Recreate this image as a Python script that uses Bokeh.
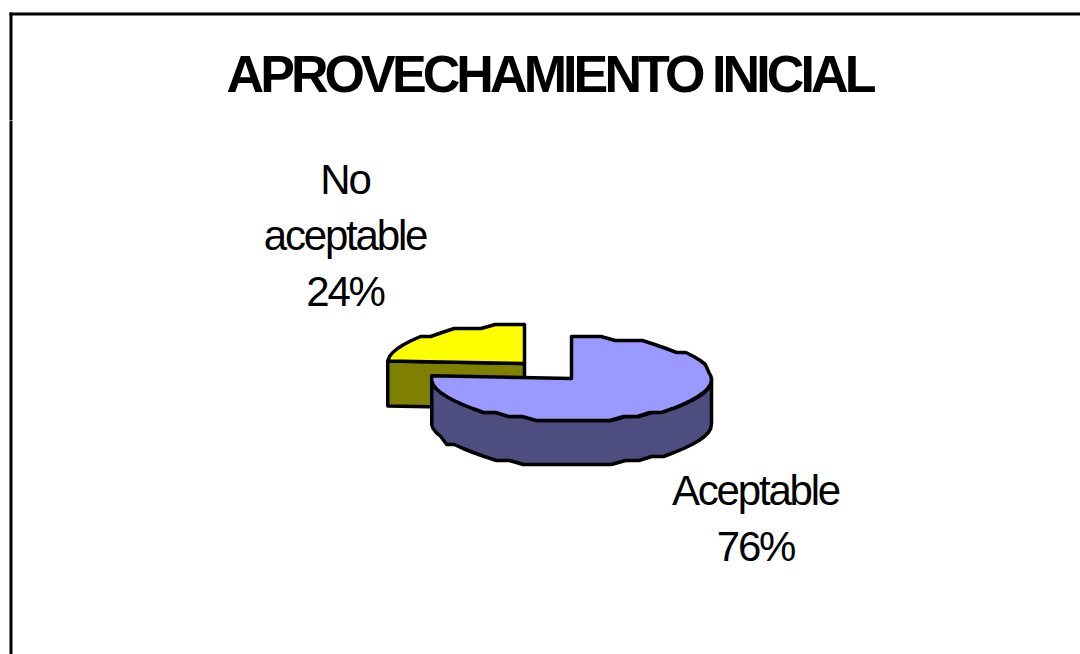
import numpy as np
from bokeh.plotting import figure
from bokeh.layouts import column
from bokeh.models import Range1d
from bokeh.embed import file_html
from bokeh.resources import INLINE
from bokeh.core.properties import value

TITLE = "APROVECHAMIENTO INICIAL"
categories = ["Aceptable", "No\naceptable"]
percents = [76, 24]
top_colors = ["#9999FF", "#FFFF00"]
side_colors = ["#4D4D80", "#808000"]

W, H, SPLIT = 1080, 654, 120
FONT = "Liberation Sans"
DEPTH = 45
JAG = 4
STEP = 6
TITLE_SP = 3.9
LABEL_SP = 2.2
LW = 3.5


def base(h, y0, y1, spacing):
    f = figure(width=W, height=h, output_backend="svg", toolbar_location=None,
               x_axis_type=None, y_axis_type=None,
               x_range=Range1d(0, W), y_range=Range1d(y1, y0),
               min_border=0, outline_line_color=None, background_fill_color="white",
               border_fill_color="white")
    f.grid.visible = False
    f.styles = {"letter-spacing": f"-{spacing}px"}
    f.line([10.5, 10.5], [max(y0 - 3, 12), y1 + 3], line_color="black", line_width=3)
    return f


def arc(cx, cy, rx, ry, a0, a1):
    n = max(2, int(abs(a1 - a0) / STEP) + 1)
    t = np.radians(np.linspace(a0, a1, n))
    x = cx + rx * np.cos(t)
    y = cy - ry * np.sin(t)
    y[1:-1] = np.round(y[1:-1] / JAG) * JAG
    return x, y


top = base(SPLIT, 0, SPLIT, TITLE_SP)
top.line([9, W], [13.5, 13.5], line_color="black", line_width=3)
top.text([549 + len(TITLE) * TITLE_SP / 2], [73], text=[TITLE], text_font=value(FONT),
         text_font_style="bold", text_font_size="52px", text_align="center",
         text_baseline="middle", text_color="black")

p = base(H - SPLIT, SPLIT, H, LABEL_SP)
b0, b1 = 90, 90 - 3.6 * percents[0]
y0, y1 = 90 + 3.6 * percents[1], 90

# yellow slice
cx, cy, rx, ry = 524, 363, 137, 39
ax, ay = arc(cx, cy, rx, ry, y1, y0)
p.patch([cx, ax[-1], ax[-1], cx], [cy, ay[-1], ay[-1] + DEPTH, cy + DEPTH],
        fill_color=side_colors[1], line_color="black", line_width=LW, line_join="round")
p.patch(np.r_[cx, ax], np.r_[cy, ay], fill_color=top_colors[1], line_color="black",
        line_width=LW, line_join="round")

# blue slice
cx, cy, rx, ry = 571, 378, 140, 42
fx, fy = arc(cx, cy, rx, ry, 0, b1)
fbx, fby = arc(cx, cy + DEPTH, rx, ry, 0, b1)
p.patch(np.r_[fx, fbx[::-1]], np.r_[fy, fby[::-1]], fill_color=side_colors[0],
        line_color="black", line_width=LW, line_join="round")
tx, ty = arc(cx, cy, rx, ry, b0, b1)
p.patch(np.r_[cx, tx], np.r_[cy, ty], fill_color=top_colors[0], line_color="black",
        line_width=LW, line_join="round")

anchors = [(755, 490), (344.5, 179)]
LINE = 56
xs, ys, rows = [], [], []
for c, v, (ax0, ay0) in zip(categories, percents, anchors):
    for i, row in enumerate(c.split("\n") + [f"{v}%"]):
        rows.append(row)
        xs.append(ax0 + len(row) * LABEL_SP / 2)
        ys.append(ay0 + i * LINE)
p.text(xs, ys, text=rows, text_font=value(FONT), text_font_size="42px",
       text_align="center", text_baseline="alphabetic", text_color="black")

layout = column(top, p, spacing=0)
open("out.html", "w").write(file_html(layout, INLINE))
